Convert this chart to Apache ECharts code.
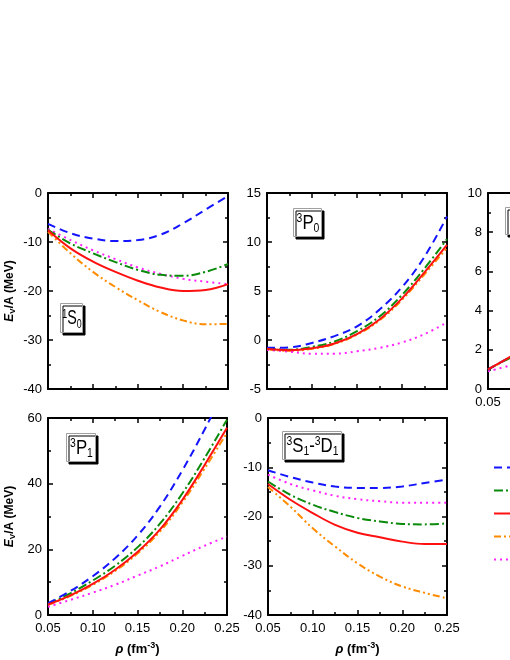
<!DOCTYPE html>
<html>
<head>
<meta charset="utf-8">
<script src="https://cdn.jsdelivr.net/npm/echarts@6/dist/echarts.min.js"></script>
<style>
html, body { margin: 0; padding: 0; background: #fff; }
#chart { width: 510px; height: 660px; }
</style>
</head>
<body>
<div id="chart"></div>
<script>
// density grid (fm^-3)
const rho = [0.05, 0.075, 0.1, 0.125, 0.15, 0.175, 0.2, 0.225, 0.25];

// legend names, in legend order
const names = ['set 1', 'set 2', 'set 3', 'set 4', 'set 5'];

// 1S0
const s1S0_blue    = [-6.3, -8.2, -9.3, -9.8, -9.6, -8.5, -6.2, -3.4, -0.6];
const s1S0_green   = [-7.5, -10.3, -12.3, -14.1, -15.7, -16.7, -16.9, -16.1, -14.5];
const s1S0_red     = [-7.6, -11.3, -14.0, -16.1, -17.9, -19.3, -20.0, -19.8, -18.6];
const s1S0_orange  = [-7.9, -12.3, -16.1, -19.2, -21.9, -24.3, -26.0, -26.8, -26.7];
const s1S0_magenta = [-7.3, -9.6, -11.7, -13.5, -15.2, -16.5, -17.5, -18.1, -18.6];

// 3P0
const p3P0_blue    = [-0.8, -0.75, -0.3, 0.4, 1.4, 3.1, 5.4, 8.5, 12.6];
const p3P0_green   = [-0.9, -1.0, -0.7, -0.15, 0.9, 2.4, 4.6, 7.3, 10.3];
const p3P0_red     = [-0.9, -1.05, -0.85, -0.35, 0.6, 2.1, 4.25, 6.9, 9.7];
const p3P0_orange  = [-0.95, -1.1, -0.9, -0.4, 0.55, 2.0, 4.1, 6.7, 9.4];
const p3P0_magenta = [-1.0, -1.2, -1.4, -1.4, -1.15, -0.8, -0.25, 0.6, 1.8];

// third panel of the top row (only its left edge is visible)
const p1P1_blue    = [1.0, 1.65, 2.3, 3.0, 3.7, 4.5, 5.3, 6.2, 7.1];
const p1P1_green   = [1.0, 1.6, 2.2, 2.9, 3.6, 4.3, 5.1, 5.9, 6.8];
const p1P1_red     = [1.0, 1.65, 2.3, 2.9, 3.6, 4.3, 5.0, 5.8, 6.6];
const p1P1_orange  = [1.0, 1.6, 2.2, 2.8, 3.5, 4.2, 4.9, 5.7, 6.5];
const p1P1_magenta = [0.9, 1.2, 1.5, 1.8, 2.1, 2.4, 2.7, 3.0, 3.3];

// 3P1
const p3P1_blue    = [3.6, 7.3, 11.8, 17.3, 24.2, 33.0, 44.0, 56.5, 70.0];
const p3P1_green   = [3.4, 6.6, 10.5, 15.0, 20.6, 27.8, 37.0, 47.8, 59.5];
const p3P1_red     = [3.2, 6.0, 9.5, 13.8, 19.2, 26.0, 35.0, 45.7, 57.0];
const p3P1_orange  = [3.1, 5.8, 9.2, 13.4, 18.7, 25.4, 34.2, 44.6, 55.5];
const p3P1_magenta = [2.5, 4.6, 6.8, 9.2, 12.0, 14.8, 18.0, 21.1, 23.9];

// 3S1-3D1
const s3S1_blue    = [-10.6, -12.0, -13.1, -13.9, -14.2, -14.2, -13.9, -13.2, -12.5];
const s3S1_green   = [-12.9, -15.6, -17.6, -19.1, -20.3, -21.0, -21.5, -21.6, -21.4];
const s3S1_red     = [-13.4, -16.6, -19.3, -21.7, -23.3, -24.2, -25.1, -25.6, -25.6];
const s3S1_orange  = [-14.0, -18.0, -22.4, -26.1, -29.5, -32.2, -34.2, -35.5, -36.6];
const s3S1_magenta = [-11.5, -13.4, -14.7, -15.8, -16.5, -16.9, -17.2, -17.2, -17.2];

const FONT = 'Liberation Sans, Arial, sans-serif';

// line looks: blue dashed, green dash-dot, red solid, orange dash-dot-dot, magenta dotted
const looks = [
  { color: '#1414ff', type: [8, 5] },
  { color: '#0a8a0a', type: [9, 3, 2, 3] },
  { color: '#ff1010', type: 'solid' },
  { color: '#ff8c00', type: [7, 3, 2, 3, 2, 3] },
  { color: '#ff22ff', type: [2, 4] }
];

const panels = [
  { grid: { left: 48, top: 193, width: 180, height: 196 }, y: [-40, 0, 10], xLabels: false,
    lines: [s1S0_blue, s1S0_green, s1S0_red, s1S0_orange, s1S0_magenta], yName: true },
  { grid: { left: 267, top: 193, width: 180, height: 196 }, y: [-5, 15, 5], xLabels: false,
    lines: [p3P0_blue, p3P0_green, p3P0_red, p3P0_orange, p3P0_magenta] },
  { grid: { left: 488, top: 193, width: 180, height: 196 }, y: [0, 10, 2], xLabels: true,
    lines: [p1P1_blue, p1P1_green, p1P1_red, p1P1_orange, p1P1_magenta] },
  { grid: { left: 48, top: 418, width: 179, height: 197 }, y: [0, 60, 20], xLabels: true, xName: true,
    lines: [p3P1_blue, p3P1_green, p3P1_red, p3P1_orange, p3P1_magenta], yName: true },
  { grid: { left: 268, top: 418, width: 179, height: 197 }, y: [-40, 0, 10], xLabels: true, xName: true,
    lines: [s3S1_blue, s3S1_green, s3S1_red, s3S1_orange, s3S1_magenta] }
];

const tickStyle = { color: '#000', width: 1.5 };
const axisLineStyle = { color: '#000', width: 2 };
const labelStyle = { color: '#000', fontSize: 13, fontFamily: FONT };

const grids = [], xAxes = [], yAxes = [], series = [];

panels.forEach(function (p, gi) {
  grids.push(Object.assign({ outerBoundsMode: 'none', containLabel: false }, p.grid));

  const xBase = {
    gridIndex: gi, type: 'value', min: 0.05, max: 0.25, interval: 0.05,
    splitLine: { show: false },
    axisLine: { show: true, onZero: false, lineStyle: axisLineStyle },
    axisTick: { show: true, inside: true, length: 5, lineStyle: tickStyle },
    minorTick: { show: true, splitNumber: 2, length: 3, lineStyle: tickStyle },
    minorSplitLine: { show: false }
  };
  xAxes.push(Object.assign({}, xBase, {
    position: 'bottom',
    axisLabel: Object.assign({ show: p.xLabels, margin: 7, showMinLabel: true, showMaxLabel: true,
      formatter: function (v) { return v.toFixed(2); } }, labelStyle),
    name: p.xName ? '{r|\u03c1}{t| (fm}{s|-3}{t|)}' : '',
    nameLocation: 'middle', nameGap: 26,
    nameTextStyle: {
      rich: {
        r: { fontStyle: 'italic', fontWeight: 'bold', fontSize: 13, fontFamily: FONT, color: '#000' },
        t: { fontWeight: 'bold', fontSize: 13, fontFamily: FONT, color: '#000' },
        s: { fontWeight: 'bold', fontSize: 9, fontFamily: FONT, color: '#000', padding: [0, 0, 7, 0] }
      }
    }
  }));
  xAxes.push(Object.assign({}, xBase, { position: 'top', axisLabel: { show: false } }));

  const yBase = {
    gridIndex: gi, type: 'value', min: p.y[0], max: p.y[1], interval: p.y[2],
    splitLine: { show: false },
    axisLine: { show: true, onZero: false, lineStyle: axisLineStyle },
    axisTick: { show: true, inside: true, length: 5, lineStyle: tickStyle },
    minorTick: { show: true, splitNumber: 2, length: 3, lineStyle: tickStyle },
    minorSplitLine: { show: false }
  };
  yAxes.push(Object.assign({}, yBase, {
    position: 'left',
    axisLabel: Object.assign({ show: true, margin: 6, showMinLabel: true, showMaxLabel: true }, labelStyle),
    name: p.yName ? '{e|E}{v|V}{t|/A (MeV)}' : '',
    nameLocation: 'middle', nameGap: 31, nameRotate: 90,
    nameTextStyle: {
      rich: {
        e: { fontStyle: 'italic', fontWeight: 'bold', fontSize: 12, fontFamily: FONT, color: '#000' },
        v: { fontWeight: 'bold', fontSize: 8, fontFamily: FONT, color: '#000', padding: [7, 0, 0, 0] },
        t: { fontWeight: 'bold', fontSize: 12, fontFamily: FONT, color: '#000' }
      }
    }
  }));
  yAxes.push(Object.assign({}, yBase, { position: 'right', axisLabel: { show: false } }));

  // draw order: orange, magenta, green, blue, red on top
  [3, 4, 1, 0, 2].forEach(function (k) {
    series.push({
      type: 'line', name: names[k],
      xAxisIndex: 2 * gi, yAxisIndex: 2 * gi,
      data: rho.map(function (x, i) { return [x, p.lines[k][i]]; }),
      smooth: 0.4, showSymbol: false, symbol: 'none', clip: true,
      lineStyle: { color: looks[k].color, width: 2, type: looks[k].type, cap: 'butt' },
      itemStyle: { color: looks[k].color },
      emphasis: { disabled: true }
    });
  });
});

// boxed channel labels
function tag(x, y, w, h, text, sx, tx) {
  return {
    type: 'group', x: x, y: y, silent: true,
    children: [
      { type: 'rect', shape: { x: 0.5, y: 0.5, width: w, height: h },
        style: { fill: '#fff', stroke: '#a0a0a0', lineWidth: 1,
                 shadowColor: '#000', shadowOffsetX: 2.5, shadowOffsetY: 2.5, shadowBlur: 0 } },
      { type: 'text', x: tx == null ? w / 2 + 1 : tx, y: h / 2 + 1, scaleX: sx,
        style: {
          text: text, align: tx == null ? 'center' : 'left', verticalAlign: 'middle',
          rich: {
            m: { fontSize: 21, fontFamily: FONT, fill: '#000' },
            p: { fontSize: 13, fontFamily: FONT, fill: '#000', padding: [0, 0, 9, 0] },
            b: { fontSize: 13, fontFamily: FONT, fill: '#000', padding: [11, 0, 0, 0] }
          }
        } }
    ]
  };
}

const chart = echarts.init(document.getElementById('chart'), null, { renderer: 'canvas' });
chart.setOption({
  animation: false,
  backgroundColor: '#fff',
  grid: grids,
  xAxis: xAxes,
  yAxis: yAxes,
  legend: {
    data: names, orient: 'vertical', left: 493, top: 461, padding: 0,
    itemWidth: 30, itemHeight: 14, itemGap: 10,
    itemStyle: { opacity: 0, borderWidth: 0 },
    textStyle: { fontSize: 13, fontFamily: FONT, color: '#000' },
    selectedMode: false
  },
  graphic: [
    tag(60, 303, 22, 29, '{p|1}{m|S}{b|0}', 0.68),
    tag(293, 208, 28, 28, '{p|3}{m|P}{b|0}', 0.8),
    tag(505, 207, 30, 27, '{p|1}{m|P}{b|1}', 0.8, 8),
    tag(66, 433, 29, 28, '{p|3}{m|P}{b|1}', 0.8),
    tag(282, 431, 59, 28, '{p|3}{m|S}{b|1}{m|-}{p|3}{m|D}{b|1}', 0.8)
  ],
  series: series
});
</script>
</body>
</html>
